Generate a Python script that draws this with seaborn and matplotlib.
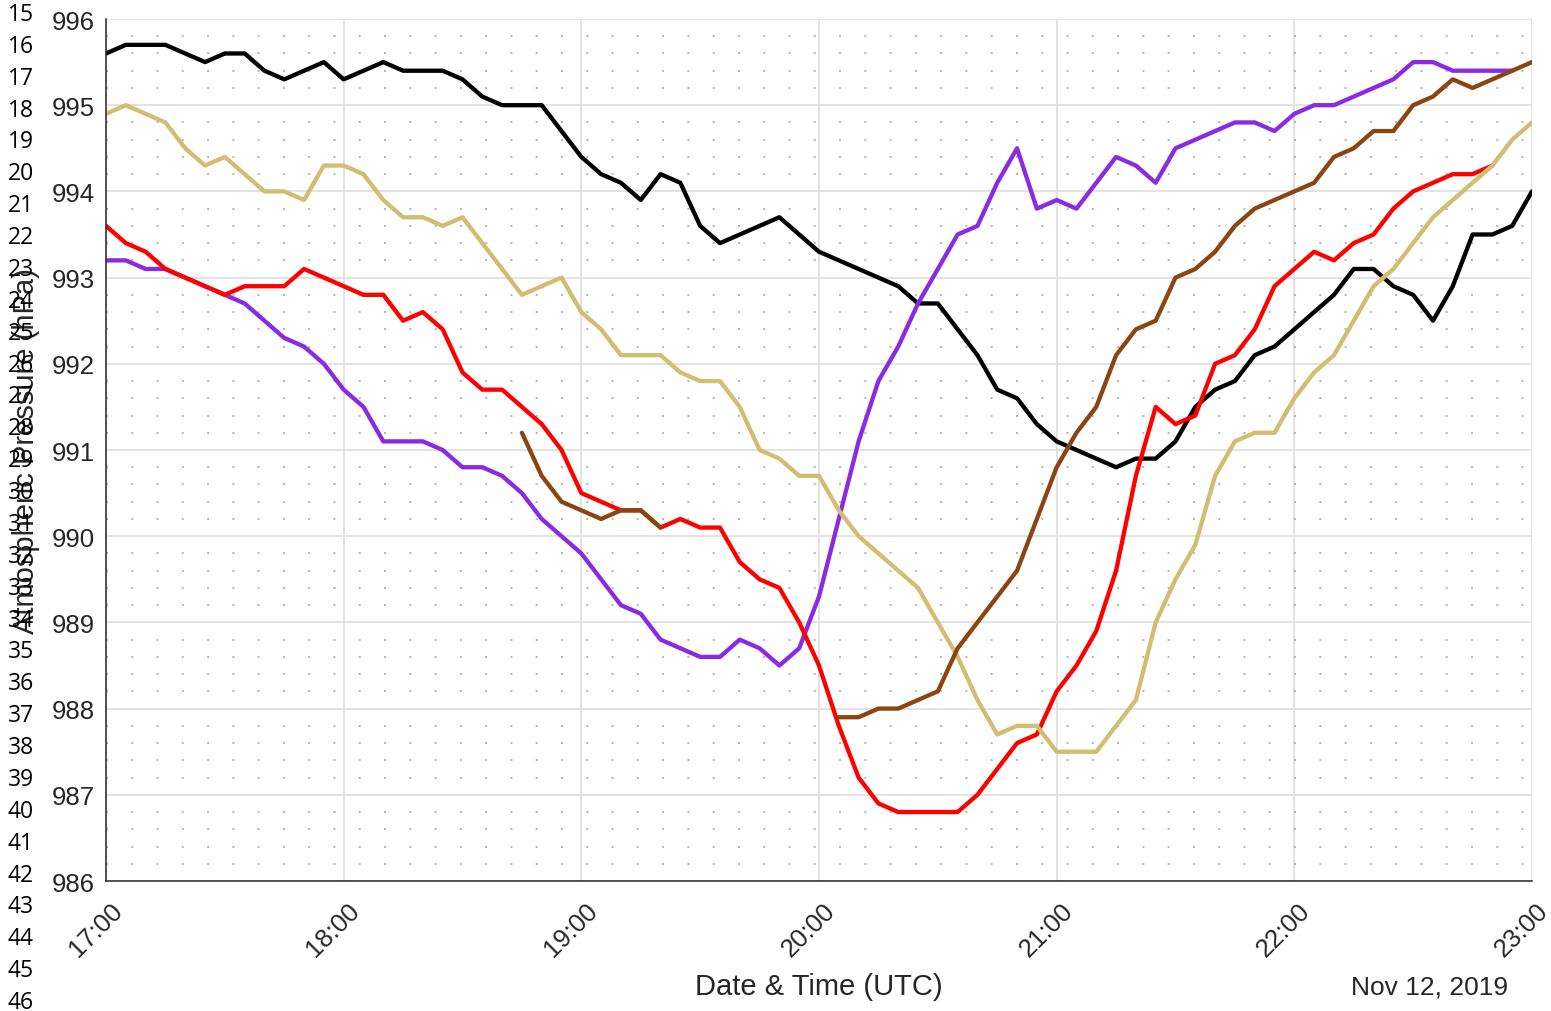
import numpy as np
import pandas as pd
import matplotlib
matplotlib.use("Agg")
import matplotlib.pyplot as plt
import matplotlib.dates as mdates
import matplotlib.transforms as mtransforms
from matplotlib.ticker import MultipleLocator
import seaborn as sns

# ---------------- data (5-minute samples, 17:00 .. 23:00 UTC) ----------------
start_time = "2019-11-12 17:00"
n_points = 73

black = [995.6, 995.7, 995.7, 995.7, 995.6, 995.5, 995.6, 995.6, 995.4, 995.3,
         995.4, 995.5, 995.3, 995.4, 995.5, 995.4, 995.4, 995.4, 995.3, 995.1,
         995.0, 995.0, 995.0, 994.7, 994.4, 994.2, 994.1, 993.9, 994.2, 994.1,
         993.6, 993.4, 993.5, 993.6, 993.7, 993.5, 993.3, 993.2, 993.1, 993.0,
         992.9, 992.7, 992.7, 992.4, 992.1, 991.7, 991.6, 991.3, 991.1, 991.0,
         990.9, 990.8, 990.9, 990.9, 991.1, 991.5, 991.7, 991.8, 992.1, 992.2,
         992.4, 992.6, 992.8, 993.1, 993.1, 992.9, 992.8, 992.5, 992.9, 993.5,
         993.5, 993.6, 994.0]

tan = [994.9, 995.0, 994.9, 994.8, 994.5, 994.3, 994.4, 994.2, 994.0, 994.0,
       993.9, 994.3, 994.3, 994.2, 993.9, 993.7, 993.7, 993.6, 993.7, 993.4,
       993.1, 992.8, 992.9, 993.0, 992.6, 992.4, 992.1, 992.1, 992.1, 991.9,
       991.8, 991.8, 991.5, 991.0, 990.9, 990.7, 990.7, 990.3, 990.0, 989.8,
       989.6, 989.4, 989.0, 988.6, 988.1, 987.7, 987.8, 987.8, 987.5, 987.5,
       987.5, 987.8, 988.1, 989.0, 989.5, 989.9, 990.7, 991.1, 991.2, 991.2,
       991.6, 991.9, 992.1, 992.5, 992.9, 993.1, 993.4, 993.7, 993.9, 994.1,
       994.3, 994.6, 994.8]

red = [993.6, 993.4, 993.3, 993.1, 993.0, 992.9, 992.8, 992.9, 992.9, 992.9,
       993.1, 993.0, 992.9, 992.8, 992.8, 992.5, 992.6, 992.4, 991.9, 991.7,
       991.7, 991.5, 991.3, 991.0, 990.5, 990.4, 990.3, 990.3, 990.1, 990.2,
       990.1, 990.1, 989.7, 989.5, 989.4, 989.0, 988.5, 987.8, 987.2, 986.9,
       986.8, 986.8, 986.8, 986.8, 987.0, 987.3, 987.6, 987.7, 988.2, 988.5,
       988.9, 989.6, 990.7, 991.5, 991.3, 991.4, 992.0, 992.1, 992.4, 992.9,
       993.1, 993.3, 993.2, 993.4, 993.5, 993.8, 994.0, 994.1, 994.2, 994.2,
       994.3, None, None]

purple = [993.2, 993.2, 993.1, 993.1, 993.0, 992.9, 992.8, 992.7, 992.5, 992.3,
          992.2, 992.0, 991.7, 991.5, 991.1, 991.1, 991.1, 991.0, 990.8, 990.8,
          990.7, 990.5, 990.2, 990.0, 989.8, 989.5, 989.2, 989.1, 988.8, 988.7,
          988.6, 988.6, 988.8, 988.7, 988.5, 988.7, 989.3, 990.2, 991.1, 991.8,
          992.2, 992.7, 993.1, 993.5, 993.6, 994.1, 994.5, 993.8, 993.9, 993.8,
          994.1, 994.4, 994.3, 994.1, 994.5, 994.6, 994.7, 994.8, 994.8, 994.7,
          994.9, 995.0, 995.0, 995.1, 995.2, 995.3, 995.5, 995.5, 995.4, 995.4,
          995.4, 995.4, None]

brown = [None] * 21 + [
    991.2, 990.7, 990.4, 990.3, 990.2, 990.3, 990.3, 990.1] + [None] * 8 + [
    987.9, 987.9, 988.0, 988.0, 988.1, 988.2, 988.7, 989.0, 989.3, 989.6,
    990.2, 990.8, 991.2, 991.5, 992.1, 992.4, 992.5, 993.0, 993.1, 993.3,
    993.6, 993.8, 993.9, 994.0, 994.1, 994.4, 994.5, 994.7, 994.7, 995.0,
    995.1, 995.3, 995.2, 995.3, 995.4, 995.5]

series_names = ["black", "purple", "red", "tan", "brown"]
series_values = [black, purple, red, tan, brown]
series_colors = ["#000000", "#8A2BE2", "#FF0000", "#D1BE72", "#8B4513"]

y_ticks = [986, 987, 988, 989, 990, 991, 992, 993, 994, 995, 996]
line_numbers = list(range(15, 47))

# ---------------- long-form table ----------------
times = pd.date_range(start_time, periods=n_points, freq="5min")
rows = []
for name, vals in zip(series_names, series_values):
    seg = 0
    prev_nan = True
    for t, v in zip(times, vals):
        if v is None:
            prev_nan = True
            continue
        if prev_nan:
            seg += 1
            prev_nan = False
        rows.append({"time": t, "pressure": v, "series": name,
                     "seg": f"{name}_{seg}"})
df = pd.DataFrame(rows)

# ---------------- plot ----------------
sns.set_theme(style="white")
plt.rcParams["font.family"] = ["Liberation Sans", "DejaVu Sans"]

W, H = 1551, 1012
fig = plt.figure(figsize=(W / 100, H / 100), dpi=100)
ax = fig.add_axes([106 / W, 1 - 882 / H, (1532 - 106) / W, (882 - 20) / H])

sns.lineplot(data=df, x="time", y="pressure", hue="series", units="seg",
             estimator=None, hue_order=series_names,
             palette=dict(zip(series_names, series_colors)),
             linewidth=3.1, legend=False, ax=ax, sort=True)

ax.set_xlim(times[0], times[-1])
ax.set_ylim(986, 996)
ax.set_yticks(y_ticks)
ax.yaxis.set_minor_locator(MultipleLocator(0.2))
ax.xaxis.set_major_locator(mdates.HourLocator())
ax.xaxis.set_major_formatter(mdates.DateFormatter("%H:%M"))

ax.set_axisbelow(True)
ax.grid(True, which="major", axis="both", color="#e0e0e0", linewidth=1.3)
ax.grid(True, which="minor", axis="y", color="#b4b4b4", linewidth=1.4,
        linestyle=(0, (1, 12)))

text_color = "#262626"
for s in ["top", "right"]:
    ax.spines[s].set_visible(False)
for s in ["left", "bottom"]:
    ax.spines[s].set_color(text_color)
    ax.spines[s].set_linewidth(1.1)

ax.tick_params(axis="both", which="major", direction="in", length=10.5,
               width=1.0, color=text_color, labelcolor=text_color,
               labelsize=18.5)
ax.tick_params(axis="y", which="minor", left=False)
ax.tick_params(axis="x", pad=12)
ax.tick_params(axis="y", pad=8)

offset = mtransforms.ScaledTranslation(4 / 100, 0, fig.dpi_scale_trans)
for lbl in ax.get_xticklabels():
    lbl.set_rotation(45)
    lbl.set_ha("right")
    lbl.set_va("top")
    lbl.set_rotation_mode("anchor")
    lbl.set_transform(lbl.get_transform() + offset)

ax.set_xlabel("Date & Time (UTC)", fontsize=21, color=text_color)
ax.xaxis.set_label_coords(0.5, -0.106)
ax.set_ylabel("Atmospheric Pressure (hPa)", fontsize=21, color=text_color)
ax.yaxis.set_label_coords(-0.046, 0.5)

ax.text(0.928, -0.108, "Nov 12, 2019", transform=ax.transAxes,
        ha="center", va="top", fontsize=19, color=text_color)

# column of numbers on the left edge
for k, num in enumerate(line_numbers):
    ypix = 15 + k * (1003 - 15) / (len(line_numbers) - 1)
    fig.text(8 / W, 1 - ypix / H, str(num), ha="left", va="center",
             fontsize=16.5, color="black", family=["Open Sans", "DejaVu Sans"])

fig.savefig("out.png", dpi=100)
